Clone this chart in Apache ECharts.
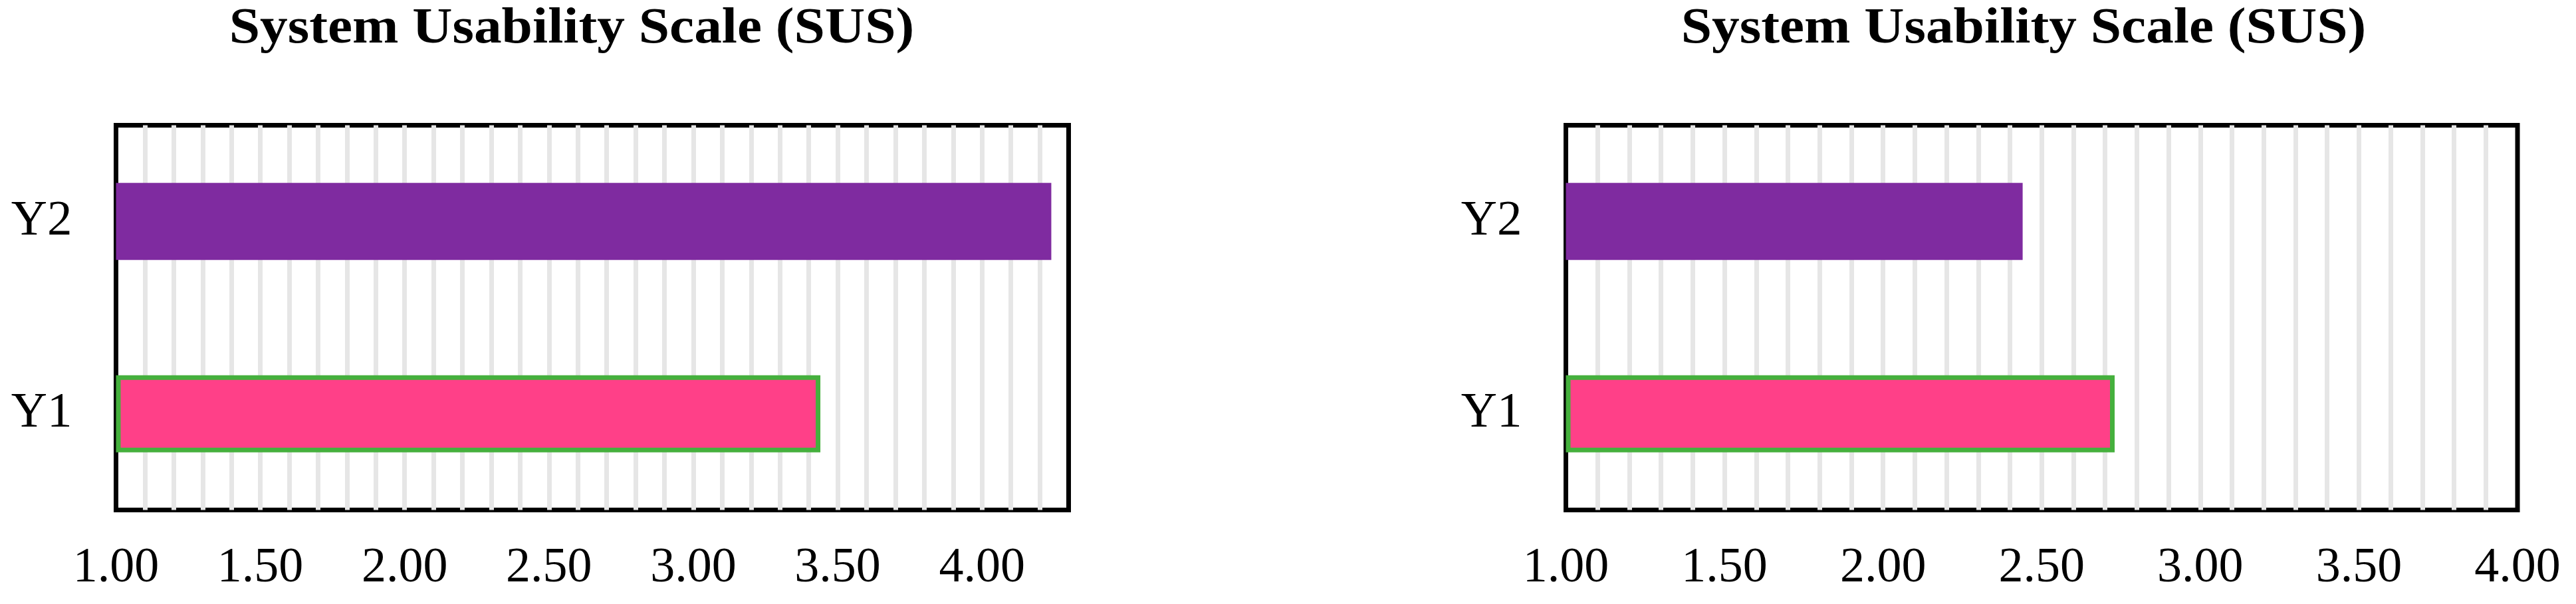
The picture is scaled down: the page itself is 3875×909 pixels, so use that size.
<!DOCTYPE html>
<html>
<head>
<meta charset="utf-8">
<script src="https://cdn.jsdelivr.net/npm/echarts@6/dist/echarts.min.js"></script>
<style>
html,body{margin:0;padding:0;background:#fff;}
#chart{width:3875px;height:909px;}
</style>
</head>
<body>
<div id="chart"></div>
<script>
const titleText = 'System Usability Scale (SUS)';
const categories = ['Y1', 'Y2'];
const leftValues = [3.44, 4.24];
const rightValues = [2.73, 2.44];
const leftAxis = { min: 1, max: 4.3, step: 0.1 };
const rightAxis = { min: 1, max: 4, step: 0.1 };

const FONT = "'Liberation Serif', 'Times New Roman', serif";
const barColors = ['#FF4088', '#7F2BA0'];
const barBorder = ['#45B03D', 'transparent'];

function fmt(v) {
  const d = v * 2;
  return Math.abs(d - Math.round(d)) < 1e-6 ? v.toFixed(2) : '';
}

function xAxisDef(gi, ax) {
  return {
    type: 'value', gridIndex: gi, min: ax.min, max: ax.max, interval: ax.step,
    startValue: ax.min,
    axisLine: { show: false }, axisTick: { show: false },
    axisLabel: { formatter: fmt, fontFamily: FONT, fontSize: 74, color: '#000', margin: 51, hideOverlap: false },
    splitLine: { show: true, showMinLine: false, showMaxLine: false, lineStyle: { color: '#E6E6E6', width: 7 } }
  };
}
function yAxisDef(gi) {
  return {
    type: 'category', gridIndex: gi, data: categories,
    axisLine: { show: false }, axisTick: { show: false },
    axisLabel: { fontFamily: FONT, fontSize: 75, color: '#000', margin: 66 },
    splitLine: { show: false }
  };
}
function seriesDef(i, vals) {
  return {
    type: 'bar', xAxisIndex: i, yAxisIndex: i, barWidth: '40%',
    data: vals.map((v, k) => ({
      value: v,
      itemStyle: { color: barColors[k], borderColor: barBorder[k], borderWidth: k === 0 ? 7 : 0 }
    }))
  };
}
function titleDef(cx) {
  return {
    type: 'text', x: cx, y: 44, scaleX: 1.097, originX: 0, originY: 0,
    style: {
      text: titleText, fill: '#000', align: 'center', verticalAlign: 'middle',
      font: "bold 76px " + FONT
    }
  };
}

const chart = echarts.init(document.getElementById('chart'));
chart.setOption({
  animation: false,
  backgroundColor: '#fff',
  graphic: [titleDef(860), titleDef(3044)],
  grid: [
    { left: 174.5, top: 188.5, width: 1433, height: 579, show: true, borderColor: '#000', borderWidth: 7, backgroundColor: 'transparent' },
    { left: 2355.5, top: 188.5, width: 1431.5, height: 579, show: true, borderColor: '#000', borderWidth: 7, backgroundColor: 'transparent' }
  ],
  xAxis: [xAxisDef(0, leftAxis), xAxisDef(1, rightAxis)],
  yAxis: [yAxisDef(0), yAxisDef(1)],
  series: [seriesDef(0, leftValues), seriesDef(1, rightValues)]
});
</script>
</body>
</html>
